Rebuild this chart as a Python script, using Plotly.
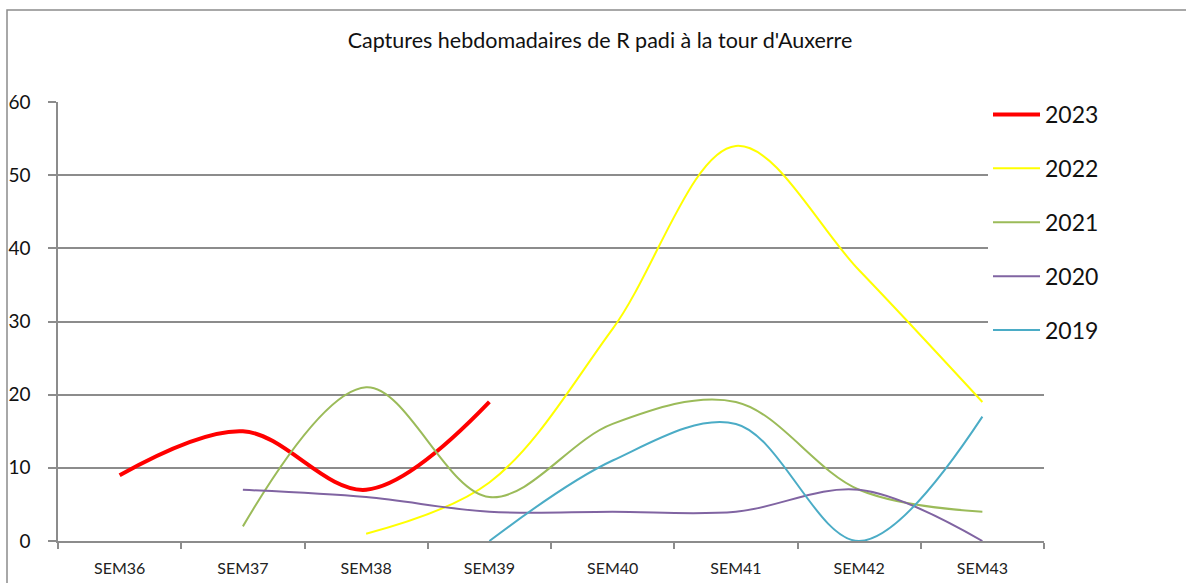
import plotly.graph_objects as go

categories = ["SEM36", "SEM37", "SEM38", "SEM39", "SEM40", "SEM41", "SEM42", "SEM43"]

y2023 = [9, 15, 7, 19, None, None, None, None]
y2022 = [None, None, 1, 8, 29, 54, 37, 19]
y2021 = [None, 2, 21, 6, 16, 19, 7, 4]
y2020 = [None, 7, 6, 4, 4, 4, 7, 0]
y2019 = [None, None, None, 0, 11, 16, 0, 17]

series_names = ["2023", "2022", "2021", "2020", "2019"]
series_values = [y2023, y2022, y2021, y2020, y2019]
series_colors = ["#FF0000", "#FFFF00", "#9BBB59", "#8064A2", "#4BACC6"]
series_widths = [4, 2, 2, 2, 2]

y_ticks = [0, 10, 20, 30, 40, 50, 60]

FONT = "Lato, Liberation Sans, Arial, sans-serif"

fig = go.Figure()
for name, vals, col, w in zip(series_names, series_values, series_colors, series_widths):
    fig.add_trace(go.Scatter(
        x=categories, y=vals, name=name, mode="lines",
        line=dict(color=col, width=w, shape="spline", smoothing=1.0),
        legendgroup=name,
    ))

W, H = 1186, 583
L, R, T, B = 58, 142, 102, 42
pw, ph = W - L - R, H - T - B
YMAX = 60
NCAT = len(categories)

def px_x(p):
    return (p - L) / pw

def px_y(p):
    return (H - B - p) / ph

fig.update_layout(
    template="none",
    width=W, height=H,
    margin=dict(l=L, r=R, t=T, b=B, pad=0, autoexpand=False),
    paper_bgcolor="white", plot_bgcolor="white",
    font=dict(family=FONT, color="#000000"),
    title=dict(text="Captures hebdomadaires de R padi à la tour d'Auxerre",
               x=600 / W, xref="container", xanchor="center",
               y=1 - 40 / H, yref="container", yanchor="middle",
               font=dict(size=21.5, family=FONT, color="#111111")),
    showlegend=True,
    legend=dict(x=px_x(988), xanchor="left", y=px_y(93), yanchor="top",
                bgcolor="white", borderwidth=0, font=dict(size=23, family=FONT, color="#111111"),
                traceorder="grouped", tracegroupgap=21, itemwidth=47),
    xaxis=dict(type="category", range=[-0.5, NCAT - 0.5], showgrid=False, automargin=False,
               showline=True, linecolor="#8c8c8c", linewidth=1.5, zeroline=False,
               ticks="outside", tickson="boundaries", ticklen=6, tickwidth=1.5, tickcolor="#8c8c8c",
               tickfont=dict(size=16, family=FONT, color="#222222"), ticklabelstandoff=12,
               fixedrange=True),
    yaxis=dict(range=[0, YMAX], tickvals=y_ticks, showgrid=True, gridcolor="#8c8c8c", gridwidth=1.5,
               showline=True, linecolor="#8c8c8c", linewidth=1.5, zeroline=False, automargin=False,
               ticks="outside", ticklen=8, tickwidth=1.5, tickcolor="#8c8c8c",
               tickfont=dict(size=19, family=FONT, color="#111111"), ticklabelstandoff=14,
               fixedrange=True),
    shapes=[
        dict(type="rect", xref="paper", yref="paper",
             x0=px_x(7), x1=1.5, y0=-0.5, y1=px_y(10),
             line=dict(color="#8c8c8c", width=1.5), fillcolor="rgba(0,0,0,0)", layer="below"),
    ],
)

fig.write_html("out.html", config={"displayModeBar": False},
               post_script="document.body.style.margin='0px';document.body.style.overflow='hidden';")
